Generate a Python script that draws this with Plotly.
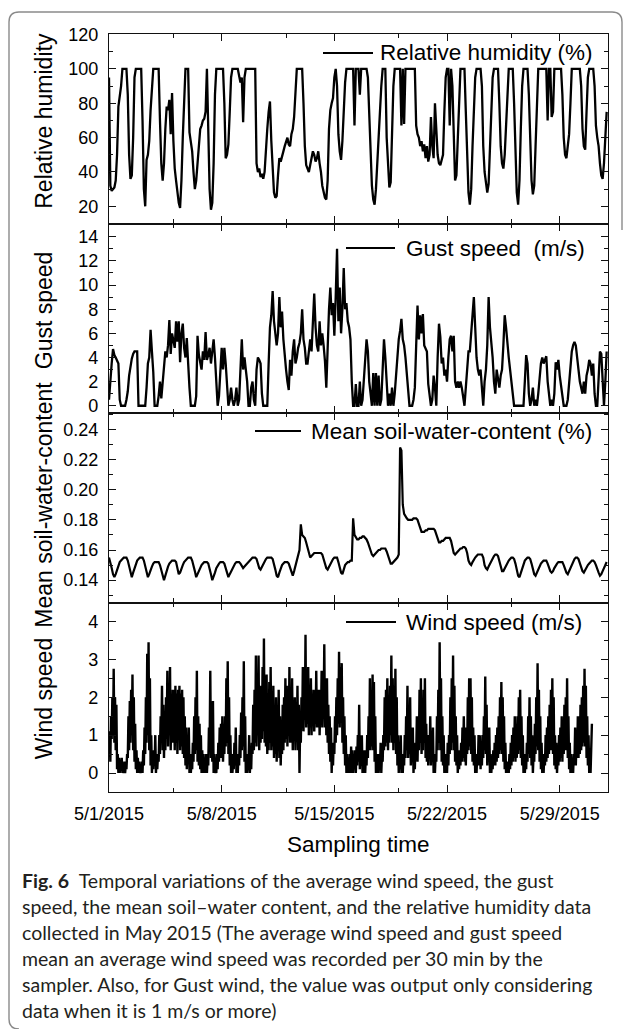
import pandas as pd
import plotly.graph_objects as go
from plotly.subplots import make_subplots

# ---------------- layout constants (pixels) ----------------
FIG_W, FIG_H = 629, 1029
PLOT_L, PLOT_R, PLOT_T, PLOT_B = 109, 608, 34, 792

# ---------------- texts ----------------
X_START = "2015-05-01"
X_END = "2015-06-01"
PANEL_TITLES = ["Relative humidity", "Gust speed", "Mean soil-water-content", "Wind speed"]
LEGEND_NAMES = ["Relative humidity (%)", "Gust speed\u00a0 (m/s)",
                "Mean soil-water-content (%)", "Wind speed (m/s)"]
X_TITLE = "Sampling time"
CAPTION_LINES = [
    "<b>Fig. 6</b>\u2002Temporal variations of the average wind speed, the gust",
    "speed, the mean soil\u2013water content, and the relative humidity data",
    "collected in May 2015 (The average wind speed and gust speed",
    "mean an average wind speed was recorded per 30 min by the",
    "sampler. Also, for Gust wind, the value was output only considering",
    "data when it is 1 m/s or more)",
]

# ---------------- data (one row per day, starting 5/1) ----------------
# relative humidity, 2-hourly
RH = [
    95, 32, 29, 30, 31, 35, 50, 78, 84, 90, 100, 100,
    100, 100, 85, 50, 36, 38, 60, 95, 100, 100, 100, 100,
    100, 70, 30, 20, 47, 50, 58, 76, 90, 100, 100, 100,
    100, 100, 70, 45, 35, 45, 65, 78, 76, 82, 62, 86,
    58, 42, 35, 28, 22, 19, 35, 60, 85, 100, 100, 100,
    63, 58, 52, 40, 30, 35, 45, 58, 65, 67, 70, 71,
    75, 100, 60, 30, 18, 22, 45, 85, 100, 100, 100, 100,
    100, 100, 80, 48, 50, 56, 75, 95, 100, 100, 100, 100,
    100, 96, 92, 95, 69, 95, 100, 100, 100, 100, 100, 100,
    100, 100, 45, 40, 42, 37, 39, 36, 40, 55, 65, 75,
    81, 58, 40, 28, 25, 26, 38, 48, 46, 50, 52, 55,
    57, 60, 56, 55, 62, 65, 72, 90, 100, 100, 100, 100,
    100, 80, 55, 44, 42, 40, 44, 48, 52, 50, 46, 48,
    52, 45, 40, 32, 28, 25, 24, 35, 65, 76, 80, 83,
    95, 100, 90, 62, 52, 47, 58, 80, 92, 100, 100, 100,
    100, 100, 100, 67, 100, 100, 100, 85, 100, 100, 100, 100,
    100, 95, 70, 45, 32, 24, 21, 30, 45, 62, 80, 90,
    100, 100, 100, 60, 40, 31, 34, 60, 90, 100, 100, 100,
    100, 100, 67, 100, 68, 100, 100, 100, 100, 100, 100, 100,
    100, 67, 62, 60, 55, 58, 52, 56, 48, 55, 46, 50,
    72, 55, 48, 80, 60, 50, 45, 44, 47, 50, 75, 95,
    100, 100, 67, 100, 90, 60, 35, 38, 60, 90, 100, 100,
    100, 100, 75, 45, 28, 21, 30, 55, 80, 95, 100, 100,
    100, 100, 90, 55, 40, 32, 28, 33, 55, 80, 95, 100,
    100, 100, 100, 80, 55, 45, 42, 50, 70, 90, 100, 100,
    100, 100, 80, 45, 28, 21, 35, 65, 90, 100, 100, 100,
    100, 85, 55, 35, 27, 32, 55, 80, 100, 100, 100, 100,
    100, 100, 100, 70, 100, 100, 72, 75, 100, 100, 100, 100,
    100, 100, 85, 60, 50, 48, 55, 62, 80, 100, 100, 100,
    100, 100, 100, 100, 90, 65, 55, 53, 75, 95, 100, 100,
    100, 100, 90, 67, 60, 55, 45, 38, 36, 45, 60, 75,
]

# gust speed, 2-hourly
GUST = [
    0.5, 2.5, 3.5, 4.7, 4.2, 4.0, 3.8, 3.5, 0.5, 0, 0, 0,
    0, 0.5, 1.2, 2.5, 3.3, 3.9, 4.3, 4.5, 4.5, 4.5, 0, 0,
    0, 0, 0, 0, 1.5, 3.5, 4.0, 6.3, 4.5, 2.8, 0, 0,
    0, 0.8, 2.0, 0.6, 2.0, 3.0, 4.5, 4.0, 5.0, 7.1, 4.3, 6.0,
    5.5, 4.8, 7.0, 5.3, 7.0, 3.6, 6.0, 6.8, 4.8, 4.0, 5.6, 3.0,
    1.5, 0, 0, 0, 0, 0.8, 5.8, 4.2, 3.5, 3.0, 4.5, 3.8,
    6.1, 3.8, 4.2, 4.8, 3.5, 4.5, 5.5, 4.0, 1.5, 0, 0.8, 2.5,
    4.8, 3.0, 4.8, 3.5, 2.0, 0, 0.5, 1.5, 0.5, 0, 0.5, 1.5,
    0, 0.5, 3.0, 5.5, 3.0, 4.0, 3.0, 2.0, 0, 0, 1.5, 2.0,
    0.5, 0, 3.0, 4.0, 3.8, 3.5, 1.0, 0, 0, 0, 0, 3.5,
    6.5, 7.5, 9.5, 7.0, 6.0, 5.0, 6.0, 9.0, 6.5, 7.8, 5.5, 4.0,
    3.0, 2.0, 1.3, 3.8, 2.5, 4.5, 5.5, 3.5, 4.0, 4.8, 5.2, 6.0,
    8.0, 5.5, 4.8, 3.5, 3.5, 4.5, 5.5, 4.5, 7.4, 9.3, 6.5, 5.0,
    4.5, 7.0, 5.0, 6.0, 5.0, 3.7, 1.5, 6.0, 8.0, 9.8, 7.5, 8.5,
    5.8, 9.0, 13.0, 7.0, 9.8, 6.0, 8.0, 11.4, 8.0, 8.5, 7.0, 6.5,
    5.5, 2.0, 0, 0, 1.8, 0, 0, 2.0, 0, 0.5, 2.5, 4.5,
    5.5, 4.5, 2.0, 1.0, 0, 2.7, 0, 2.7, 0, 2.5, 0, 0.5,
    3.0, 5.5, 4.0, 2.0, 0, 1.0, 0, 1.5, 0, 1.0, 2.5, 4.5,
    5.5, 6.2, 7.2, 5.5, 5.0, 4.0, 2.5, 1.0, 0, 0, 0, 0.5,
    1.5, 5.0, 8.3, 5.5, 7.5, 6.0, 7.6, 5.0, 4.8, 4.5, 1.8, 1.0,
    0, 0.5, 2.5, 1.5, 0, 4.0, 6.8, 5.7, 3.5, 4.0, 2.5, 3.0,
    2.0, 4.0, 5.5, 5.8, 4.5, 5.8, 2.0, 1.5, 2.0, 1.5, 2.0, 1.5,
    0.5, 0, 1.5, 3.0, 4.5, 4.5, 6.0, 7.0, 9.0, 6.5, 4.0, 3.0,
    2.5, 3.0, 1.0, 0, 2.0, 3.0, 5.0, 9.0, 6.5, 5.5, 4.0, 2.0,
    1.0, 3.0, 2.0, 1.5, 2.5, 3.0, 5.0, 7.5, 6.5, 5.0, 4.0, 3.0,
    2.0, 1.3, 0, 0, 0, 0, 0, 0, 0, 0, 2.0, 4.2,
    3.5, 1.0, 0, 0.5, 1.5, 0, 0.5, 0, 1.0, 2.5, 3.5, 4.0,
    3.5, 3.8, 4.1, 2.0, 1.0, 0, 0.5, 0, 1.0, 3.6, 3.0, 3.8,
    2.5, 1.5, 0.5, 0, 0, 0, 0.5, 2.0, 3.5, 4.5, 5.0, 5.3,
    5.0, 4.2, 3.0, 2.0, 1.5, 1.0, 2.0, 1.0, 2.5, 3.0, 3.8, 3.5,
    2.5, 3.5, 1.0, 0, 0, 3.0, 4.5, 4.3, 2.0, 0, 2.0, 4.5,
]

# mean soil-water content, 2-hourly
SOIL = [
    0.155, 0.152, 0.148, 0.144, 0.142, 0.144, 0.147, 0.150, 0.152, 0.153, 0.154, 0.155,
    0.155, 0.155, 0.153, 0.149, 0.145, 0.142, 0.145, 0.148, 0.151, 0.153, 0.154, 0.155,
    0.155, 0.155, 0.153, 0.149, 0.145, 0.142, 0.144, 0.147, 0.149, 0.151, 0.152, 0.152,
    0.152, 0.152, 0.150, 0.146, 0.142, 0.140, 0.143, 0.147, 0.149, 0.151, 0.152, 0.153,
    0.153, 0.153, 0.152, 0.148, 0.144, 0.145, 0.148, 0.150, 0.152, 0.153, 0.154, 0.155,
    0.155, 0.155, 0.153, 0.150, 0.146, 0.142, 0.144, 0.147, 0.149, 0.150, 0.151, 0.152,
    0.152, 0.152, 0.151, 0.148, 0.144, 0.140, 0.142, 0.145, 0.148, 0.150, 0.151, 0.152,
    0.152, 0.152, 0.151, 0.148, 0.145, 0.142, 0.144, 0.146, 0.148, 0.150, 0.151, 0.152,
    0.152, 0.152, 0.151, 0.149, 0.148, 0.149, 0.150, 0.151, 0.152, 0.153, 0.154, 0.155,
    0.155, 0.155, 0.154, 0.151, 0.148, 0.147, 0.149, 0.151, 0.153, 0.154, 0.155, 0.155,
    0.155, 0.155, 0.154, 0.151, 0.147, 0.143, 0.142, 0.145, 0.148, 0.150, 0.151, 0.152,
    0.152, 0.152, 0.151, 0.148, 0.145, 0.143, 0.146, 0.150, 0.153, 0.158, 0.160, 0.177,
    0.170, 0.169, 0.168, 0.165, 0.161, 0.158, 0.155, 0.156, 0.157, 0.158, 0.158, 0.158,
    0.158, 0.158, 0.158, 0.157, 0.154, 0.150, 0.148, 0.147, 0.149, 0.151, 0.152, 0.154,
    0.155, 0.155, 0.155, 0.152, 0.148, 0.145, 0.144, 0.147, 0.150, 0.151, 0.152, 0.152,
    0.153, 0.153, 0.181, 0.170, 0.168, 0.167, 0.167, 0.168, 0.168, 0.169, 0.169, 0.168,
    0.167, 0.165, 0.162, 0.159, 0.157, 0.156, 0.157, 0.158, 0.159, 0.160, 0.160, 0.161,
    0.161, 0.161, 0.161, 0.159, 0.156, 0.153, 0.151, 0.151, 0.152, 0.153, 0.154, 0.155,
    0.157, 0.228, 0.226, 0.190, 0.184, 0.182, 0.181, 0.180, 0.180, 0.180, 0.180, 0.181,
    0.181, 0.181, 0.180, 0.177, 0.174, 0.172, 0.172, 0.172, 0.173, 0.173, 0.174, 0.174,
    0.174, 0.174, 0.174, 0.173, 0.170, 0.167, 0.165, 0.165, 0.166, 0.166, 0.167, 0.168,
    0.168, 0.168, 0.168, 0.166, 0.161, 0.158, 0.157, 0.158, 0.159, 0.160, 0.161, 0.161,
    0.162, 0.162, 0.161, 0.158, 0.153, 0.151, 0.150, 0.152, 0.154, 0.155, 0.156, 0.157,
    0.157, 0.157, 0.157, 0.155, 0.150, 0.148, 0.147, 0.149, 0.151, 0.153, 0.155, 0.156,
    0.157, 0.157, 0.156, 0.153, 0.149, 0.146, 0.146, 0.148, 0.150, 0.151, 0.153, 0.154,
    0.155, 0.155, 0.154, 0.151, 0.147, 0.143, 0.142, 0.145, 0.148, 0.151, 0.153, 0.154,
    0.155, 0.155, 0.154, 0.151, 0.147, 0.144, 0.143, 0.145, 0.148, 0.150, 0.151, 0.152,
    0.153, 0.153, 0.153, 0.151, 0.148, 0.146, 0.145, 0.146, 0.148, 0.150, 0.151, 0.152,
    0.152, 0.152, 0.152, 0.150, 0.147, 0.145, 0.144, 0.146, 0.149, 0.151, 0.153, 0.154,
    0.155, 0.155, 0.154, 0.151, 0.148, 0.146, 0.145, 0.147, 0.149, 0.150, 0.151, 0.152,
    0.153, 0.153, 0.152, 0.150, 0.147, 0.145, 0.143, 0.144, 0.146, 0.148, 0.150, 0.152,
]

# average wind speed, hourly
WIND = [
    0.5, 1.1, 0.3, 1.5, 0.9, 2.0, 1.0, 2.75, 0.8, 2.0, 0.6, 1.8, 0.1, 0.5, 0.0, 0.4, 0.0, 0.3, 0.1, 0.4, 0.0, 0.2, 0.0, 0.3,
    0.0, 0.2, 0.1, 0.5, 0.4, 1.5, 0.6, 1.9, 0.8, 2.2, 1.0, 2.6, 0.6, 2.0, 0.3, 1.3, 0.1, 0.6, 0.0, 0.4, 0.0, 0.3, 0.0, 0.2,
    0.0, 0.3, 0.0, 0.6, 0.2, 1.2, 0.5, 2.0, 0.8, 3.15, 1.0, 3.45, 0.6, 2.5, 0.2, 1.0, 0.0, 0.5, 0.1, 0.6, 0.2, 1.0, 0.0, 0.4,
    0.1, 0.5, 0.3, 1.0, 0.5, 1.5, 0.8, 2.3, 0.6, 1.8, 0.4, 1.6, 0.6, 2.0, 0.9, 2.7, 0.7, 2.2, 1.0, 2.8, 0.6, 2.0, 0.8, 2.2,
    0.8, 2.2, 0.6, 2.3, 0.8, 2.1, 0.5, 2.2, 1.0, 2.3, 0.6, 2.1, 0.7, 2.2, 0.5, 2.0, 0.4, 1.5, 0.2, 1.2, 0.1, 0.8, 0.3, 1.2,
    0.0, 0.5, 0.0, 0.3, 0.1, 0.8, 0.3, 1.5, 0.5, 2.0, 0.6, 2.7, 0.3, 1.5, 0.2, 1.3, 0.1, 1.0, 0.0, 0.6, 0.0, 0.5, 0.0, 0.4,
    0.0, 0.5, 0.0, 0.4, 0.2, 1.2, 0.6, 2.7, 0.4, 1.5, 0.3, 1.9, 0.0, 0.5, 0.0, 0.2, 0.0, 0.5, 0.1, 0.8, 0.3, 1.2, 0.4, 1.3,
    0.4, 1.5, 0.3, 1.0, 0.5, 1.5, 0.7, 2.5, 0.8, 2.95, 0.5, 2.0, 0.2, 1.0, 0.0, 0.5, 0.0, 0.3, 0.1, 0.8, 0.2, 1.2, 0.0, 0.3,
    0.0, 0.5, 0.2, 1.0, 0.4, 1.6, 0.6, 2.0, 0.7, 2.95, 0.3, 1.5, 0.0, 0.5, 0.0, 0.3, 0.2, 1.0, 0.0, 0.4, 0.1, 0.8, 0.5, 1.8,
    0.6, 2.2, 0.8, 3.1, 0.7, 2.0, 1.0, 3.1, 0.6, 1.8, 0.8, 2.3, 0.9, 2.8, 1.1, 3.55, 0.8, 2.3, 0.7, 2.6, 0.5, 2.0, 0.6, 2.4,
    0.8, 2.8, 0.6, 1.8, 0.7, 2.3, 0.4, 1.5, 0.5, 2.0, 0.3, 1.3, 0.7, 2.2, 0.4, 1.5, 0.2, 1.0, 0.5, 1.8, 0.6, 2.0, 0.8, 2.5,
    0.9, 2.3, 0.7, 1.8, 1.0, 2.8, 0.8, 2.0, 0.8, 2.5, 0.6, 1.8, 1.0, 2.0, 0.6, 1.5, 0.9, 2.3, 0.6, 1.8, 0.0, 1.3, 0.8, 2.0,
    1.2, 2.8, 1.1, 2.2, 1.4, 3.65, 1.2, 2.5, 1.3, 2.8, 1.0, 2.0, 1.2, 2.5, 1.0, 2.0, 1.4, 2.2, 1.1, 1.8, 1.3, 2.7, 1.2, 2.2,
    1.2, 2.2, 1.0, 1.8, 1.3, 2.7, 1.2, 2.0, 1.6, 3.4, 1.2, 2.5, 1.0, 2.5, 0.8, 1.8, 0.5, 1.5, 0.3, 1.2, 0.0, 0.8, 0.2, 0.8,
    0.5, 1.5, 0.8, 2.0, 1.0, 2.5, 1.3, 3.2, 1.2, 2.8, 1.5, 2.9, 0.8, 2.0, 0.5, 1.5, 0.2, 1.0, 0.0, 0.5, 0.0, 0.3, 0.0, 0.5,
    0.0, 0.7, 0.0, 0.6, 0.0, 0.5, 0.1, 0.6, 0.0, 0.7, 0.2, 1.0, 0.3, 1.8, 0.1, 0.8, 0.2, 1.0, 0.0, 0.5, 0.0, 0.6, 0.0, 0.5,
    0.2, 1.0, 0.4, 1.5, 0.6, 2.5, 0.6, 2.0, 0.7, 2.6, 0.6, 2.4, 0.3, 1.5, 0.0, 0.5, 0.0, 0.5, 0.0, 0.3, 0.1, 0.8, 0.0, 0.5,
    0.3, 1.0, 0.6, 2.0, 0.7, 2.2, 0.8, 2.5, 0.6, 1.8, 0.8, 2.3, 1.0, 3.1, 0.8, 2.5, 0.6, 1.8, 0.8, 2.75, 0.5, 2.0, 0.2, 1.0,
    0.0, 0.5, 0.1, 1.0, 0.0, 0.3, 0.0, 0.5, 0.2, 1.0, 0.4, 1.5, 0.6, 2.3, 0.4, 1.5, 0.5, 2.0, 0.2, 0.8, 0.3, 1.2, 0.0, 0.5,
    0.1, 0.8, 0.4, 1.5, 0.3, 1.2, 0.6, 2.2, 0.8, 2.5, 0.5, 1.5, 0.6, 2.2, 0.8, 2.5, 0.4, 1.3, 0.3, 1.0, 0.2, 0.8, 0.4, 1.5,
    0.2, 1.0, 0.3, 1.2, 0.0, 0.3, 0.0, 0.5, 0.3, 1.5, 0.6, 2.2, 0.8, 3.45, 0.6, 2.5, 0.3, 1.5, 0.2, 1.0, 0.0, 0.5, 0.0, 0.5,
    0.0, 0.8, 0.2, 1.0, 0.5, 2.0, 0.6, 2.5, 0.8, 3.1, 0.6, 2.3, 0.3, 1.5, 0.2, 1.0, 0.0, 0.5, 0.1, 0.6, 0.2, 0.8, 0.3, 1.2,
    0.4, 1.5, 0.3, 1.2, 0.2, 1.0, 0.5, 2.0, 0.6, 2.5, 0.7, 2.5, 0.5, 2.0, 0.3, 1.2, 0.2, 1.0, 0.0, 0.5, 0.0, 0.5, 0.2, 1.0,
    0.2, 1.0, 0.1, 0.8, 0.2, 1.0, 0.4, 1.5, 0.6, 2.55, 0.5, 1.8, 0.2, 1.0, 0.3, 1.2, 0.0, 0.5, 0.0, 0.3, 0.1, 0.6, 0.2, 0.8,
    0.2, 1.0, 0.3, 1.2, 0.4, 1.5, 0.5, 2.0, 0.6, 2.4, 0.5, 2.0, 0.3, 1.5, 0.1, 0.8, 0.0, 0.3, 0.0, 0.3, 0.0, 0.5, 0.1, 0.8,
    0.2, 1.0, 0.3, 1.2, 0.4, 1.5, 0.3, 1.3, 0.4, 1.5, 0.5, 2.0, 0.6, 2.2, 0.4, 1.5, 0.2, 1.0, 0.0, 0.5, 0.0, 0.3, 0.1, 0.8,
    0.3, 1.5, 0.5, 2.0, 0.4, 1.5, 0.2, 1.0, 0.0, 0.5, 0.3, 1.3, 0.5, 2.0, 0.7, 2.9, 0.6, 2.2, 0.3, 1.5, 0.1, 0.8, 0.0, 0.5,
    0.0, 0.5, 0.2, 1.0, 0.3, 1.2, 0.4, 1.5, 0.5, 1.8, 0.6, 2.2, 0.6, 2.5, 0.5, 2.0, 0.2, 1.0, 0.1, 0.8, 0.0, 0.5, 0.2, 1.0,
    0.3, 1.2, 0.4, 1.5, 0.3, 1.3, 0.5, 1.8, 0.6, 2.0, 0.6, 2.5, 0.4, 1.5, 0.1, 0.8, 0.0, 0.5, 0.0, 0.3, 0.0, 0.5, 0.3, 1.2,
    0.2, 0.8, 0.4, 1.5, 0.4, 1.5, 0.5, 1.8, 0.6, 2.0, 0.7, 2.3, 0.8, 2.75, 0.7, 2.3, 0.4, 1.5, 0.2, 1.0, 0.0, 0.3, 0.0, 0.5,
    1.3,
]

SERIES = [RH, GUST, SOIL, WIND]
STEPS = ["2h", "2h", "2h", "1h"]
LINE_W = [2.3, 2.3, 2.2, 2.4]

# ---------------- axis settings per panel ----------------
Y_RANGES = [[10, 120.3], [-0.6, 15.1], [0.1252, 0.2508], [-0.5, 4.5]]
Y_DTICK = [20, 2, 0.02, 1]
Y_MINOR = [10, 1, 0.01, 0.5]
Y_TICK0 = [0, 0, 0.14, 0]
Y_FMT = ["", "", ".2f", ""]
TITLE_SHIFT = [-8, -8, -3, 2]

# legend positions (px): line start, line end, text start, y
LEG_POS = [(323, 373, 378, 53), (346, 395, 404, 248), (255, 301, 309, 431), (346, 396, 404, 622)]

INK = "#111111"
TICK_FONT = dict(family="Liberation Sans, Arial, sans-serif", size=18, color="black")
LAB_FONT = dict(family="Liberation Sans, Arial, sans-serif", size=22.5, color="black")
TITLE_FONT = dict(family="Liberation Sans, Arial, sans-serif", size=23, color="black")
CAP_FONT = dict(family="Lato, Open Sans, sans-serif", size=19.5, color="#231f20")


def px_x(px):
    return (px - PLOT_L) / (PLOT_R - PLOT_L)


def px_y(py):
    return (PLOT_B - py) / (PLOT_B - PLOT_T)


fig = make_subplots(rows=4, cols=1, shared_xaxes=True, vertical_spacing=0)

for i, vals in enumerate(SERIES, start=1):
    t = pd.date_range(X_START, periods=len(vals), freq=STEPS[i - 1])
    fig.add_trace(go.Scatter(x=t, y=vals, mode="lines", name=LEGEND_NAMES[i - 1],
                             line=dict(color="black", width=LINE_W[i - 1]), showlegend=False),
                  row=i, col=1)

WEEK_MS = 7 * 24 * 3600 * 1000
fig.update_xaxes(range=[X_START, X_END], showline=True, linecolor=INK, linewidth=1.3,
                 mirror="ticks", ticks="inside", ticklen=7, tickwidth=1.2, tickcolor=INK,
                 showgrid=False, zeroline=False, tick0=X_START, dtick=WEEK_MS,
                 tickformat="%-m/%-d/%Y", tickfont=TICK_FONT, ticklabelstandoff=5,
                 minor=dict(ticks="inside", ticklen=4, tickwidth=1.1, tickcolor=INK,
                            tick0="2015-05-05", dtick=WEEK_MS, showgrid=False))

for i in range(4):
    fig.update_yaxes(range=Y_RANGES[i], dtick=Y_DTICK[i], tick0=Y_TICK0[i],
                     tickformat=Y_FMT[i], showline=True, linecolor=INK, linewidth=1.3,
                     mirror="ticks", ticks="inside", ticklen=7, tickwidth=1.2, tickcolor=INK,
                     showgrid=False, zeroline=False, tickfont=TICK_FONT,
                     ticklabelstandoff=6,
                     minor=dict(ticks="inside", ticklen=4, tickwidth=1.1, tickcolor=INK,
                                dtick=Y_MINOR[i], showgrid=False),
                     row=i + 1, col=1)

annotations = []
shapes = []
panel_h = (PLOT_B - PLOT_T) / 4
for i in range(4):
    yc = PLOT_T + panel_h * (i + 0.5) + TITLE_SHIFT[i]
    annotations.append(dict(text=PANEL_TITLES[i], x=px_x(44), y=px_y(yc), xref="paper", yref="paper",
                            textangle=-90, showarrow=False, xanchor="center", yanchor="middle",
                            font=TITLE_FONT))
    x0, x1, xt, yl = LEG_POS[i]
    shapes.append(dict(type="line", xref="paper", yref="paper", x0=px_x(x0), x1=px_x(x1),
                       y0=px_y(yl), y1=px_y(yl), line=dict(color="black", width=2)))
    annotations.append(dict(text=LEGEND_NAMES[i], x=px_x(xt), y=px_y(yl), xref="paper", yref="paper",
                            showarrow=False, xanchor="left", yanchor="middle", font=LAB_FONT))

annotations.append(dict(text=X_TITLE, x=px_x((PLOT_L + PLOT_R) / 2), y=px_y(844), xref="paper",
                        yref="paper", showarrow=False, xanchor="center", yanchor="middle",
                        font=LAB_FONT))

for j, line in enumerate(CAPTION_LINES):
    annotations.append(dict(text=line, x=px_x(20), y=px_y(880 + 26 * j), xref="paper", yref="paper",
                            showarrow=False, xanchor="left", yanchor="middle", align="left",
                            font=CAP_FONT))


def P(px, py):
    return f"{px_x(px):.5f},{px_y(py):.5f}"


# outer rounded frame of the figure box
frame_path = (f"M {P(19, 1029)} Q {P(9, 1029)} {P(9, 1019)} L {P(9, 22)} Q {P(9, 12)} {P(19, 12)} "
              f"L {P(612, 12)} Q {P(622, 12)} {P(622, 22)} L {P(622, 230)}")
shapes.append(dict(type="path", xref="paper", yref="paper", path=frame_path,
                   line=dict(color="#8a8a8a", width=1.4)))

fig.update_layout(width=FIG_W, height=FIG_H,
                  margin=dict(l=PLOT_L, r=FIG_W - PLOT_R, t=PLOT_T, b=FIG_H - PLOT_B),
                  paper_bgcolor="white", plot_bgcolor="white", showlegend=False,
                  annotations=annotations, shapes=shapes)

fig.write_html("out.html", config={"displayModeBar": False},
               post_script="document.body.style.margin='0px';")
